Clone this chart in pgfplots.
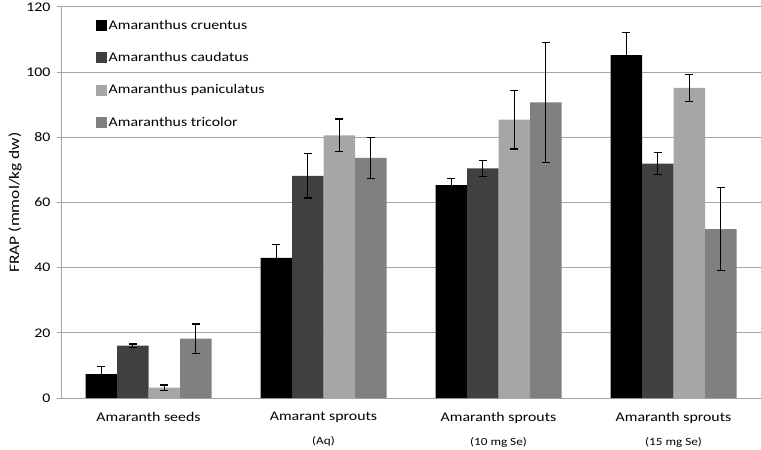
\documentclass[border=0pt]{standalone}
\usepackage{pgfplots}
\pgfplotsset{compat=1.18}
\usepackage{fontspec}
\setmainfont{Carlito}[FakeStretch=1.2]
\definecolor{cA}{RGB}{0,0,0}
\definecolor{cB}{RGB}{64,64,64}
\definecolor{cC}{RGB}{166,166,166}
\definecolor{cD}{RGB}{128,128,128}
\definecolor{gridc}{RGB}{165,165,165}
\begin{document}
\begin{tikzpicture}
\path[use as bounding box] (-61bp,-52bp) rectangle (700bp,398bp);
\begin{axis}[
  scale only axis,
  width=700bp, height=391bp,
  at={(0,0)}, anchor=south west,
  ybar=0pt, bar width=31.5bp,
  xmin=-0.5, xmax=3.5,
  ymin=0, ymax=120,
  ytick={0,20,40,60,80,100,120},
  xtick={0,1,2,3},
  xticklabels={{Amaranth seeds},{Amarant sprouts\\[8bp]{\fontsize{11bp}{13bp}\selectfont (Aq)}},{Amaranth sprouts\\[8bp]{\fontsize{11bp}{13bp}\selectfont (10 mg Se)}},{Amaranth sprouts\\[8bp]{\fontsize{11bp}{13bp}\selectfont (15 mg Se)}}},
  xticklabel style={align=center, font=\fontsize{13.2bp}{15.5bp}\selectfont, yshift=-7bp},
  yticklabel style={font=\fontsize{13.2bp}{15.5bp}\selectfont, xshift=-3bp},
  /pgf/number format/assume math mode=true,
  axis x line*=bottom, axis y line*=left,
  axis line style={gridc, line width=1bp},
  ymajorgrids, grid style={gridc, line width=1bp},
  ytick style={gridc, line width=1bp}, xtick style={draw=none},
  tick align=outside, major tick length=4bp,
  ylabel={FRAP (mmol/kg dw)},
  ylabel style={font=\fontsize{14.5bp}{17bp}\selectfont, yshift=-2bp},
  legend cell align=left,
  legend image code/.code={\fill[#1] (0bp,-5.5bp) rectangle (11bp,5.5bp);},
  legend style={at={(0.05,0.97)}, anchor=north west, draw=none, fill=none,
    font=\fontsize{13.2bp}{15.5bp}\selectfont, row sep=18.5bp, inner sep=0pt,
    nodes={inner sep=1.5bp}},
  error bars/y dir=both, error bars/y explicit,
  error bars/error bar style={black, line width=1.2bp},
  error bars/error mark options={rotate=90, mark size=4bp, black, line width=1.2bp},
]
\addplot[fill=cA, draw=none] table[x=x, y=y, y error=e] {
x y e
0 7.3 2.4
1 43.0 4.2
2 65.3 2.0
3 105.2 6.9
};
\addplot[fill=cB, draw=none] table[x=x, y=y, y error=e] {
x y e
0 16.1 0.5
1 68.2 6.8
2 70.5 2.4
3 71.9 3.4
};
\addplot[fill=cC, draw=none] table[x=x, y=y, y error=e] {
x y e
0 3.2 0.8
1 80.6 5.0
2 85.4 9.0
3 95.2 4.2
};
\addplot[fill=cD, draw=none] table[x=x, y=y, y error=e] {
x y e
0 18.2 4.5
1 73.7 6.3
2 90.7 18.4
3 51.8 12.7
};
\legend{Amaranthus cruentus, Amaranthus caudatus, Amaranthus paniculatus, Amaranthus tricolor}
\end{axis}
\end{tikzpicture}
\end{document}
